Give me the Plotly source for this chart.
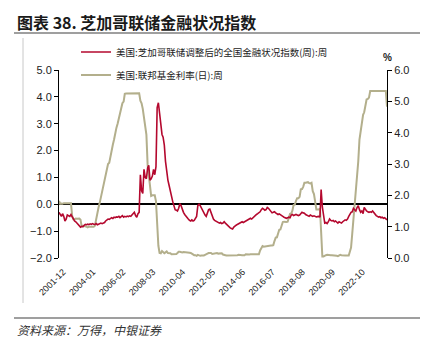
import pandas as pd
import plotly.graph_objects as go

# ---------------- data (monthly, 2001-12 .. 2024-10) ----------------
start_month = "2001-12-01"

# 美国:芝加哥联储调整后的全国金融状况指数(周)
anfci = [
    -0.30,                                                                      # 2001-12
    -0.40, -0.45, -0.35, -0.45, -0.62, -0.55, -0.40, -0.42, -0.45, -0.38, -0.48, -0.58,  # 2002
    -0.62, -0.65, -0.70, -0.74, -0.82, -0.85, -0.82, -0.84, -0.78, -0.75, -0.76, -0.74,  # 2003
    -0.76, -0.73, -0.75, -0.72, -0.74, -0.75, -0.72, -0.76, -0.74, -0.73, -0.70, -0.72,  # 2004
    -0.70, -0.68, -0.62, -0.58, -0.55, -0.56, -0.52, -0.50, -0.53, -0.48, -0.50, -0.47,  # 2005
    -0.48, -0.45, -0.50, -0.46, -0.42, -0.48, -0.45, -0.47, -0.44, -0.46, -0.43, -0.45,  # 2006
    -0.40, -0.38, -0.30, -0.42, -0.48, -0.35, -0.30, 1.10, 0.50, 0.40, 1.30, 1.00,       # 2007
    0.95, 1.35, 1.45, 0.90, 0.95, 1.05, 1.30, 1.10, 1.40, 3.60, 3.78, 3.40,             # 2008
    2.95, 2.60, 2.50, 2.20, 1.60, 1.20, 0.90, 0.70, 0.45, 0.30, 0.10, -0.05,            # 2009
    -0.20, -0.22, -0.25, -0.15, 0.02, -0.05, -0.20, -0.30, -0.38, -0.45, -0.52, -0.55,  # 2010
    -0.60, -0.62, -0.58, -0.62, -0.60, -0.50, -0.45, -0.05, 0.00, -0.05, -0.15, -0.25,  # 2011
    -0.35, -0.40, -0.45, -0.35, -0.20, -0.18, -0.30, -0.45, -0.55, -0.60, -0.62, -0.65,  # 2012
    -0.68, -0.70, -0.68, -0.72, -0.70, -0.65, -0.70, -0.75, -0.78, -0.82, -0.88, -0.90,  # 2013
    -0.92, -0.85, -0.80, -0.78, -0.75, -0.72, -0.70, -0.68, -0.65, -0.68, -0.65, -0.62,  # 2014
    -0.58, -0.55, -0.53, -0.52, -0.55, -0.50, -0.48, -0.42, -0.38, -0.35, -0.32, -0.28,  # 2015
    -0.20, -0.15, -0.18, -0.22, -0.20, -0.12, -0.15, -0.22, -0.28, -0.32, -0.30, -0.28,  # 2016
    -0.32, -0.35, -0.38, -0.36, -0.40, -0.42, -0.45, -0.48, -0.50, -0.52, -0.50, -0.48,  # 2017
    -0.50, -0.40, -0.38, -0.42, -0.40, -0.38, -0.40, -0.42, -0.40, -0.35, -0.30, -0.32,  # 2018
    -0.33, -0.38, -0.40, -0.42, -0.45, -0.40, -0.42, -0.45, -0.43, -0.45, -0.47, -0.46,  # 2019
    -0.45, -0.48, 0.55, -0.10, -0.50, -0.70, -0.68, -0.72, -0.65, -0.55, -0.60, -0.62,   # 2020
    -0.60, -0.65, -0.62, -0.68, -0.70, -0.65, -0.68, -0.70, -0.65, -0.62, -0.58, -0.60,  # 2021
    -0.55, -0.45, -0.35, -0.30, -0.28, -0.15, -0.20, -0.25, -0.12, -0.05, -0.20, -0.30,  # 2022
    -0.25, -0.35, -0.12, -0.20, -0.25, -0.28, -0.30, -0.28, -0.30, -0.25, -0.32, -0.38,  # 2023
    -0.42, -0.45, -0.48, -0.46, -0.50, -0.48, -0.52, -0.50, -0.55, -0.58,               # 2024
]

# 美国:联邦基金利率(日)
fed_funds = [
    1.82,                                                                       # 2001-12
    1.73, 1.74, 1.73, 1.75, 1.75, 1.75, 1.73, 1.74, 1.75, 1.75, 1.34, 1.24,     # 2002
    1.24, 1.26, 1.25, 1.26, 1.26, 1.22, 1.01, 1.03, 1.01, 1.01, 1.00, 0.98,     # 2003
    1.00, 1.01, 1.00, 1.00, 1.00, 1.03, 1.26, 1.43, 1.61, 1.76, 1.93, 2.16,     # 2004
    2.28, 2.50, 2.63, 2.79, 3.00, 3.04, 3.26, 3.50, 3.62, 3.78, 4.00, 4.16,     # 2005
    4.29, 4.49, 4.59, 4.79, 4.94, 4.99, 5.24, 5.25, 5.25, 5.25, 5.25, 5.24,     # 2006
    5.25, 5.26, 5.26, 5.25, 5.25, 5.25, 5.26, 5.02, 4.94, 4.76, 4.49, 4.24,     # 2007
    3.94, 2.98, 2.61, 2.28, 1.98, 2.00, 2.01, 2.00, 1.81, 0.97, 0.39, 0.16,     # 2008
    0.15, 0.22, 0.18, 0.15, 0.18, 0.21, 0.16, 0.16, 0.15, 0.12, 0.12, 0.12,     # 2009
    0.11, 0.13, 0.16, 0.20, 0.20, 0.18, 0.18, 0.19, 0.19, 0.19, 0.19, 0.18,     # 2010
    0.17, 0.16, 0.14, 0.10, 0.09, 0.09, 0.07, 0.10, 0.08, 0.07, 0.08, 0.07,     # 2011
    0.08, 0.10, 0.13, 0.14, 0.16, 0.16, 0.16, 0.13, 0.14, 0.16, 0.16, 0.16,     # 2012
    0.14, 0.15, 0.14, 0.15, 0.11, 0.09, 0.09, 0.08, 0.08, 0.09, 0.08, 0.09,     # 2013
    0.07, 0.07, 0.08, 0.09, 0.09, 0.10, 0.09, 0.09, 0.09, 0.09, 0.09, 0.12,     # 2014
    0.11, 0.11, 0.11, 0.12, 0.12, 0.13, 0.13, 0.14, 0.14, 0.12, 0.12, 0.24,     # 2015
    0.34, 0.38, 0.36, 0.37, 0.37, 0.38, 0.39, 0.40, 0.40, 0.40, 0.41, 0.54,     # 2016
    0.65, 0.66, 0.79, 0.90, 0.91, 1.04, 1.15, 1.16, 1.15, 1.15, 1.16, 1.30,     # 2017
    1.41, 1.42, 1.51, 1.69, 1.70, 1.82, 1.91, 1.91, 1.95, 2.19, 2.20, 2.27,     # 2018
    2.40, 2.40, 2.41, 2.42, 2.39, 2.38, 2.40, 2.13, 2.04, 1.83, 1.55, 1.55,     # 2019
    1.55, 1.58, 0.65, 0.05, 0.05, 0.08, 0.09, 0.10, 0.09, 0.09, 0.09, 0.09,     # 2020
    0.09, 0.08, 0.07, 0.07, 0.06, 0.08, 0.10, 0.09, 0.08, 0.08, 0.08, 0.08,     # 2021
    0.08, 0.08, 0.20, 0.33, 0.77, 1.21, 1.68, 2.33, 2.56, 3.08, 3.78, 4.10,     # 2022
    4.33, 4.57, 4.65, 4.83, 5.06, 5.08, 5.12, 5.33, 5.33, 5.33, 5.33, 5.33,     # 2023
    5.33, 5.33, 5.33, 5.33, 5.33, 5.33, 5.33, 5.33, 5.33, 4.83,                 # 2024
]

tick_labels = ["2001-12", "2004-01", "2006-02", "2008-03", "2010-04", "2012-05",
               "2014-06", "2016-07", "2018-08", "2020-09", "2022-10"]

name_anfci = "美国:芝加哥联储调整后的全国金融状况指数(周):周"
name_ff = "美国:联邦基金利率(日):周"

dates = pd.date_range(start_month, periods=len(anfci), freq="MS")
tick_vals = [t + "-01" for t in tick_labels]
x_range = ["2001-12-01", "2024-10-01"]

# ---------------- layout geometry ----------------
W, H = 437, 337
L, R, T, B = 59, 387, 70, 258


def px(xp):
    return (xp - L) / (R - L)


def py(yp):
    return (B - yp) / (B - T)


RED = "#B4082E"
KHAKI = "#B3AF8C"
TXT = "#222222"
TICKFONT = dict(family="Liberation Sans, Arial, sans-serif", size=11, color=TXT)
CJK = "Noto Sans CJK SC"

fig = go.Figure()
fig.add_trace(go.Scatter(x=dates, y=fed_funds, name=name_ff, mode="lines",
                         line=dict(color=KHAKI, width=2), yaxis="y", legend="legend2"))
fig.add_trace(go.Scatter(x=dates, y=anfci, name=name_anfci, mode="lines",
                         line=dict(color=RED, width=1.6), yaxis="y2", legend="legend"))

fig.update_layout(
    width=W, height=H,
    margin=dict(l=L, r=W - R, t=T, b=H - B, pad=0),
    paper_bgcolor="white", plot_bgcolor="white",
    showlegend=True,
    xaxis=dict(type="date", range=x_range, tickvals=tick_vals, ticktext=tick_labels,
               tickangle=-45, ticks="", showline=False, showgrid=False, zeroline=False,
               ticklabelstandoff=6, ticklabelshift=4,
               tickfont=dict(family="Liberation Sans, Arial, sans-serif", size=9, color=TXT)),
    xaxis2=dict(type="date", range=x_range, matches="x", overlaying="x", anchor="free",
                position=2 / 7, tickvals=tick_vals, ticks="outside", ticklen=3,
                tickcolor="#000000", tickwidth=1, showticklabels=False,
                showline=False, showgrid=False, zeroline=False),
    yaxis=dict(range=[0, 6], dtick=1, tickformat=".1f", side="right",
               showline=True, linecolor="#000000", linewidth=1, ticks="outside",
               ticklen=4, tickcolor="#000000", showgrid=False, zeroline=False,
               tickfont=TICKFONT),
    yaxis2=dict(range=[-2, 5], dtick=1, tickformat=".1f", side="left", overlaying="y",
                showline=True, linecolor="#000000", linewidth=1, ticks="outside",
                ticklen=4, tickcolor="#000000", showgrid=False,
                zeroline=True, zerolinecolor="#000000", zerolinewidth=1.5,
                tickfont=TICKFONT),
    legend=dict(x=px(76), y=py(52), xanchor="left", yanchor="middle",
                bgcolor="rgba(0,0,0,0)", font=dict(family=CJK, size=9.5, color=TXT)),
    legend2=dict(x=px(76), y=py(75), xanchor="left", yanchor="middle",
                 bgcolor="rgba(0,0,0,0)", font=dict(family=CJK, size=9.5, color=TXT)),
)

# decorative frame lines
fig.add_shape(type="line", xref="paper", yref="paper", x0=px(14), x1=px(420),
              y0=py(33), y1=py(33), line=dict(color="#7f7f7f", width=1.5))
fig.add_shape(type="line", xref="paper", yref="paper", x0=px(14), x1=px(420),
              y0=py(318), y1=py(318), line=dict(color="#7f7f7f", width=1.5))
fig.add_shape(type="line", xref="paper", yref="paper", x0=px(23), x1=px(23),
              y0=py(38), y1=py(303), line=dict(color="#c8c8c8", width=1))

# title, unit, source
fig.add_annotation(xref="paper", yref="paper", x=px(15), y=py(22), xanchor="left",
                   yanchor="middle", showarrow=False,
                   text="<b>图表 38. 芝加哥联储金融状况指数</b>",
                   font=dict(family=CJK, size=16, color="#1a1a1a"))
fig.add_annotation(xref="paper", yref="paper", x=px(388), y=py(57), xanchor="center",
                   yanchor="middle", showarrow=False, text="<b>%</b>",
                   font=dict(family="Liberation Sans, Arial", size=10, color=TXT))
fig.add_annotation(xref="paper", yref="paper", x=px(15), y=py(329), xanchor="left",
                   yanchor="middle", showarrow=False, text="资料来源：万得，中银证券",
                   font=dict(family=CJK, size=12, color="#333333", style="italic"))

fig.write_html("out.html")
